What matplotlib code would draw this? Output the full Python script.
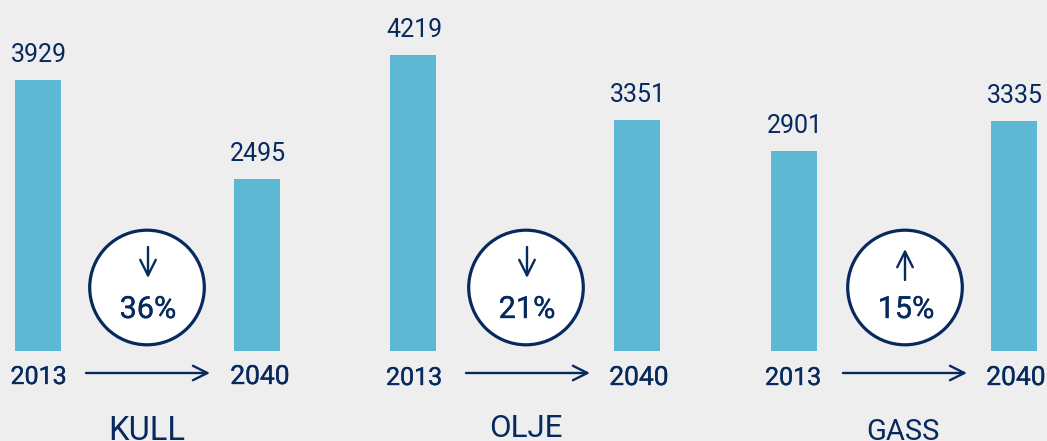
#!/usr/bin/env python3
import matplotlib
matplotlib.use("Agg")
import matplotlib.pyplot as plt
import matplotlib.patheffects as pe
from matplotlib.patches import Circle

plt.rcParams["font.family"] = ["Roboto", "DejaVu Sans"]

W, H = 1047, 441
BG = "#eeeeee"
BAR = "#5fb8d3"
NAVY = "#072a5e"

groups = ["KULL", "OLJE", "GASS"]
years = ["2013", "2040"]
values_2013 = [3929, 4219, 2901]
values_2040 = [2495, 3351, 3335]
# the OLJE 2013 bar is drawn taller in the original than its label says
bars_2013 = [3929, 4296, 2901]
bars_2040 = [2495, 3351, 3335]
changes = ["36%", "21%", "15%"]
directions = [1, 1, -1]

x_2013 = [38, 413, 794]
x_2040 = [257, 637, 1014]
x_year_2013 = [38.5, 414, 793]
x_year_2040 = [260, 639, 1016]
x_circle = [147, 526, 905]
x_group = [147, 526, 903]
y_group = [440, 437, 440]
size_group = [23.5, 22.5, 21]
y_year = [384, 385, 385]
x_arrow_from = [86, 466, 843]
x_arrow_to = [210, 590, 967]

fig = plt.figure(figsize=(W / 100, H / 100), dpi=100, facecolor=BG)
ax = fig.add_axes([0, 0, 1, 1])
ax.set_xlim(0, W)
ax.set_ylim(H, 0)
ax.axis("off")

BASE = 351
SCALE = 0.0689
# Roboto medium comes out too heavy, so thicken the regular weight a bit
medium = [pe.withStroke(linewidth=0.25, foreground=NAVY)]


def bar(x, val, label):
    top = BASE - val * SCALE
    ax.bar(x, val * SCALE, width=46, bottom=top, color=BAR, linewidth=0)
    ax.text(x + 1, top - 18, str(label), ha="center", va="baseline", color=NAVY, fontsize=18)


def arrow(x0, y0, x1, y1, scale):
    ax.annotate("", xy=(x1, y1), xytext=(x0, y0),
                arrowprops=dict(arrowstyle="->", color=NAVY, lw=1.7, mutation_scale=scale,
                                shrinkA=0, shrinkB=0))


for i, g in enumerate(groups):
    bar(x_2013[i], bars_2013[i], values_2013[i])
    bar(x_2040[i], bars_2040[i], values_2040[i])
    t1 = ax.text(x_year_2013[i], y_year[i], years[0], ha="center", va="baseline", color=NAVY, fontsize=18)
    t2 = ax.text(x_year_2040[i], y_year[i], years[1], ha="center", va="baseline", color=NAVY, fontsize=19)
    t1.set_path_effects(medium)
    t2.set_path_effects(medium)
    arrow(x_arrow_from[i], 373, x_arrow_to[i], 373, 26)

    ax.add_patch(Circle((x_circle[i], 287.5), 57.3, facecolor="white", edgecolor=NAVY, linewidth=2.3))
    if directions[i] > 0:
        arrow(x_circle[i] + 1, 247, x_circle[i] + 1, 278, 28)
    else:
        arrow(x_circle[i], 280, x_circle[i], 249, 28)
    t3 = ax.text(x_circle[i] + 1, 318, changes[i], ha="center", va="baseline", color=NAVY, fontsize=22)
    t3.set_path_effects(medium)
    ax.text(x_group[i], y_group[i], g, ha="center", va="baseline", color=NAVY, fontsize=size_group[i])

fig.savefig("out.png", dpi=100, facecolor=BG)
